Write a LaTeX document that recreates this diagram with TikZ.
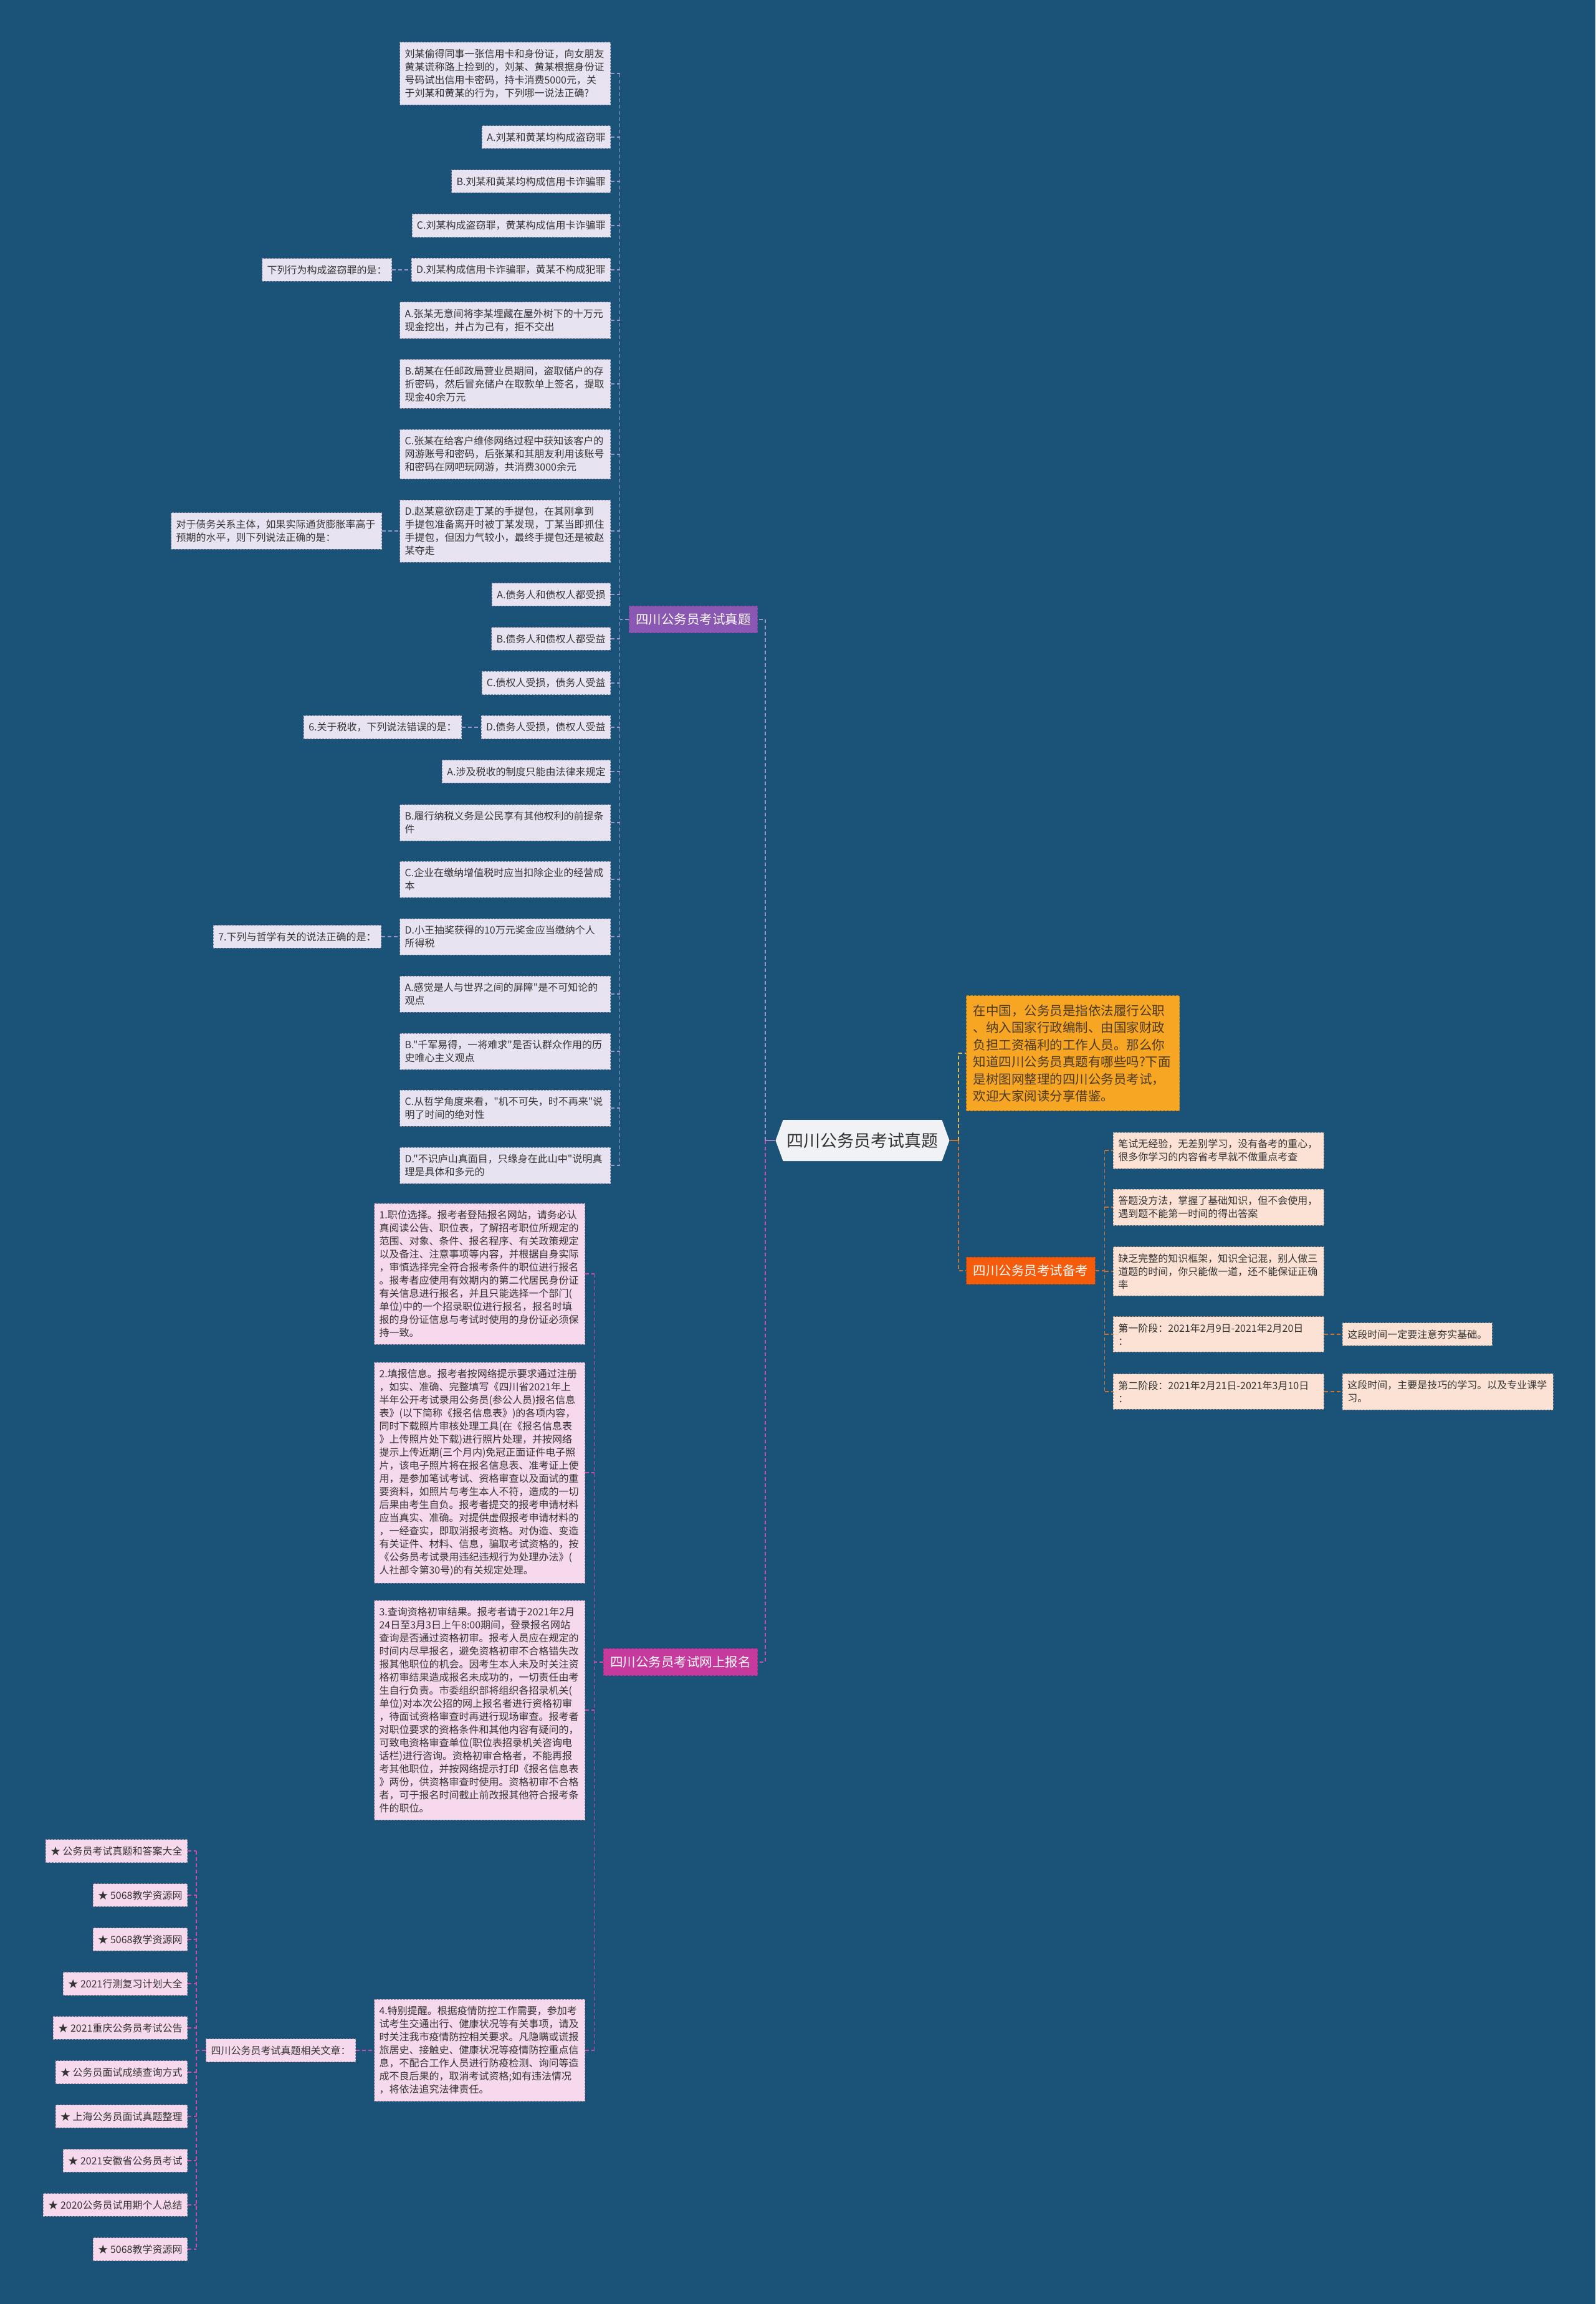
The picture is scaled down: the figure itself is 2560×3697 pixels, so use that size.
\documentclass[tikz,border=0pt]{standalone}
\usepackage{fontspec}
\usepackage{xcolor}
\newfontfamily\cjk{Noto Sans CJK SC}
\usetikzlibrary{calc, shapes.symbols}

\definecolor{bgblue}{HTML}{1B5378}
\definecolor{txtdark}{HTML}{333333}
\definecolor{zqmain}{HTML}{8A58B2}
\definecolor{zqedge}{HTML}{6A4194}
\definecolor{zqlight}{HTML}{E8E3F1}
\definecolor{zqleafedge}{HTML}{8A87A6}
\definecolor{zqwire}{HTML}{9A96C8}
\definecolor{bmmain}{HTML}{C63A9E}
\definecolor{bmedge}{HTML}{A02A80}
\definecolor{bmlight}{HTML}{F6D9EC}
\definecolor{bmleafedge}{HTML}{A48A9C}
\definecolor{bmwire}{HTML}{C84FA8}
\definecolor{bkmain}{HTML}{F45B0A}
\definecolor{bkedge}{HTML}{C24606}
\definecolor{bklight}{HTML}{FCE2D4}
\definecolor{bkleafedge}{HTML}{A89486}
\definecolor{bkwire}{HTML}{C87438}
\definecolor{inmain}{HTML}{F6A623}
\definecolor{inedge}{HTML}{D08A14}
\definecolor{inwire}{HTML}{E8B84A}
\definecolor{intext}{HTML}{4D3A22}
\definecolor{rootfill}{HTML}{F1F2F5}

\begin{document}
\begin{tikzpicture}[x=1pt, y=-1pt,
  every node/.style={font=\cjk, text=txtdark},
  leafbox/.style={rectangle, draw, dash pattern=on 3pt off 2pt, line width=0.8pt, inner xsep=8pt, inner ysep=11pt, align=left, font=\cjk\fontsize{16}{21}\selectfont},
  wide/.style={text width=322pt},
  zqleaf/.style={leafbox, fill=zqlight, draw=zqleafedge},
  bmleaf/.style={leafbox, fill=bmlight, draw=bmleafedge},
  bkleaf/.style={leafbox, fill=bklight, draw=bkleafedge},
  mainbox/.style={rectangle, draw, dash pattern=on 4pt off 2pt, line width=1pt, inner xsep=11pt, inner ysep=12pt, text=white, font=\cjk\fontsize{20.5}{26}\selectfont},
  wire/.style={line width=1.6pt, dash pattern=on 6pt off 4pt},
  zqline/.style={wire, draw=zqwire},
  bmline/.style={wire, draw=bmwire},
  bkline/.style={wire, draw=bkwire},
  inline/.style={wire, draw=inwire}]

  \fill[bgblue] (0,0) rectangle (2560,3697);

  % root
  \node[shape=signal, signal to=west and east, signal pointer angle=140, fill=rootfill, minimum height=66pt, inner xsep=6pt, font=\cjk\fontsize{27}{32}\selectfont] (root) at (1384,1830) {四川公务员考试真题};

  % branch: 四川公务员考试真题
  \node[mainbox, fill=zqmain, draw=zqedge, anchor=east] (zhenti) at (1216,994) {四川公务员考试真题};
  \node[zqleaf, wide, anchor=east] (q1) at (980,118) {刘某偷得同事一张信用卡和身份证，向女朋友\\黄某谎称路上捡到的，刘某、黄某根据身份证\\号码试出信用卡密码，持卡消费5000元，关\\于刘某和黄某的行为，下列哪一说法正确?};
  \node[zqleaf, anchor=east] (q1a) at (980,220) {A.刘某和黄某均构成盗窃罪};
  \node[zqleaf, anchor=east] (q1b) at (980,291) {B.刘某和黄某均构成信用卡诈骗罪};
  \node[zqleaf, anchor=east] (q1c) at (980,362) {C.刘某构成盗窃罪，黄某构成信用卡诈骗罪};
  \node[zqleaf, anchor=east] (q1d) at (980,433) {D.刘某构成信用卡诈骗罪，黄某不构成犯罪};
  \node[zqleaf, anchor=east] (t1) at (629,433) {下列行为构成盗窃罪的是：};
  \node[zqleaf, wide, anchor=east] (q2a) at (980,514) {A.张某无意间将李某埋藏在屋外树下的十万元\\现金挖出，并占为己有，拒不交出};
  \node[zqleaf, wide, anchor=east] (q2b) at (980,616) {B.胡某在任邮政局营业员期间，盗取储户的存\\折密码，然后冒充储户在取款单上签名，提取\\现金40余万元};
  \node[zqleaf, wide, anchor=east] (q2c) at (980,729) {C.张某在给客户维修网络过程中获知该客户的\\网游账号和密码，后张某和其朋友利用该账号\\和密码在网吧玩网游，共消费3000余元};
  \node[zqleaf, wide, anchor=east] (q2d) at (980,852) {D.赵某意欲窃走丁某的手提包，在其刚拿到\\手提包准备离开时被丁某发现，丁某当即抓住\\手提包，但因力气较小，最终手提包还是被赵\\某夺走};
  \node[zqleaf, wide, anchor=east] (t2) at (613,852) {对于债务关系主体，如果实际通货膨胀率高于\\预期的水平，则下列说法正确的是：};
  \node[zqleaf, anchor=east] (q3a) at (980,954) {A.债务人和债权人都受损};
  \node[zqleaf, anchor=east] (q3b) at (980,1025) {B.债务人和债权人都受益};
  \node[zqleaf, anchor=east] (q3c) at (980,1096) {C.债权人受损，债务人受益};
  \node[zqleaf, anchor=east] (q3d) at (980,1167) {D.债务人受损，债权人受益};
  \node[zqleaf, anchor=east] (t3) at (741,1167) {6.关于税收，下列说法错误的是：};
  \node[zqleaf, anchor=east] (q4a) at (980,1238) {A.涉及税收的制度只能由法律来规定};
  \node[zqleaf, wide, anchor=east] (q4b) at (980,1320) {B.履行纳税义务是公民享有其他权利的前提条\\件};
  \node[zqleaf, wide, anchor=east] (q4c) at (980,1411) {C.企业在缴纳增值税时应当扣除企业的经营成\\本};
  \node[zqleaf, wide, anchor=east] (q4d) at (980,1503) {D.小王抽奖获得的10万元奖金应当缴纳个人\\所得税};
  \node[zqleaf, anchor=east] (t4) at (612,1503) {7.下列与哲学有关的说法正确的是：};
  \node[zqleaf, wide, anchor=east] (q5a) at (980,1595) {A.感觉是人与世界之间的屏障"是不可知论的\\观点};
  \node[zqleaf, wide, anchor=east] (q5b) at (980,1687) {B."千军易得，一将难求"是否认群众作用的历\\史唯心主义观点};
  \node[zqleaf, wide, anchor=east] (q5c) at (980,1778) {C.从哲学角度来看，"机不可失，时不再来"说\\明了时间的绝对性};
  \node[zqleaf, wide, anchor=east] (q5d) at (980,1870) {D."不识庐山真面目，只缘身在此山中"说明真\\理是具体和多元的};

  % branch: intro and 四川公务员考试备考
  \node[rectangle, draw=inedge, dash pattern=on 4pt off 2pt, line width=1pt, fill=inmain, text=intext, align=left, text width=320pt, inner xsep=11pt, inner ysep=14pt, font=\cjk\fontsize{20.5}{27.5}\selectfont, anchor=west] (intro) at (1550,1690) {在中国，公务员是指依法履行公职\\、纳入国家行政编制、由国家财政\\负担工资福利的工作人员。那么你\\知道四川公务员真题有哪些吗?下面\\是树图网整理的四川公务员考试，\\欢迎大家阅读分享借鉴。};
  \node[mainbox, fill=bkmain, draw=bkedge, anchor=west] (beikao) at (1550,2039) {四川公务员考试备考};
  \node[bkleaf, wide, anchor=west] (r1) at (1786,1846) {笔试无经验，无差别学习，没有备考的重心，\\很多你学习的内容省考早就不做重点考查};
  \node[bkleaf, wide, anchor=west] (r2) at (1786,1937) {答题没方法，掌握了基础知识，但不会使用，\\遇到题不能第一时间的得出答案};
  \node[bkleaf, wide, anchor=west] (r3) at (1786,2040) {缺乏完整的知识框架，知识全记混，别人做三\\道题的时间，你只能做一道，还不能保证正确\\率};
  \node[bkleaf, wide, anchor=west] (r4) at (1786,2141) {第一阶段：2021年2月9日-2021年2月20日\\：};
  \node[bkleaf, wide, anchor=west] (r5) at (1786,2233) {第二阶段：2021年2月21日-2021年3月10日\\：};
  \node[bkleaf, anchor=west] (r4x) at (2154,2141) {这段时间一定要注意夯实基础。};
  \node[bkleaf, wide, anchor=west] (r5x) at (2154,2233) {这段时间，主要是技巧的学习。以及专业课学\\习。};

  % branch: 四川公务员考试网上报名
  \node[mainbox, fill=bmmain, draw=bmedge, anchor=east] (baoming) at (1216,2667) {四川公务员考试网上报名};
  \node[bmleaf, wide, anchor=east] (s1) at (939,2044) {1.职位选择。报考者登陆报名网站，请务必认\\真阅读公告、职位表，了解招考职位所规定的\\范围、对象、条件、报名程序、有关政策规定\\以及备注、注意事项等内容，并根据自身实际\\，审慎选择完全符合报考条件的职位进行报名\\。报考者应使用有效期内的第二代居民身份证\\有关信息进行报名，并且只能选择一个部门(\\单位)中的一个招录职位进行报名，报名时填\\报的身份证信息与考试时使用的身份证必须保\\持一致。};
  \node[bmleaf, wide, anchor=east] (s2) at (939,2363) {2.填报信息。报考者按网络提示要求通过注册\\，如实、准确、完整填写《四川省2021年上\\半年公开考试录用公务员(参公人员)报名信息\\表》(以下简称《报名信息表》)的各项内容，\\同时下载照片审核处理工具(在《报名信息表\\》上传照片处下载)进行照片处理，并按网络\\提示上传近期(三个月内)免冠正面证件电子照\\片，该电子照片将在报名信息表、准考证上使\\用，是参加笔试考试、资格审查以及面试的重\\要资料，如照片与考生本人不符，造成的一切\\后果由考生自负。报考者提交的报考申请材料\\应当真实、准确。对提供虚假报考申请材料的\\，一经查实，即取消报考资格。对伪造、变造\\有关证件、材料、信息，骗取考试资格的，按\\《公务员考试录用违纪违规行为处理办法》(\\人社部令第30号)的有关规定处理。};
  \node[bmleaf, wide, anchor=east] (s3) at (939,2744) {3.查询资格初审结果。报考者请于2021年2月\\24日至3月3日上午8:00期间，登录报名网站\\查询是否通过资格初审。报考人员应在规定的\\时间内尽早报名，避免资格初审不合格错失改\\报其他职位的机会。因考生本人未及时关注资\\格初审结果造成报名未成功的，一切责任由考\\生自行负责。市委组织部将组织各招录机关(\\单位)对本次公招的网上报名者进行资格初审\\，待面试资格审查时再进行现场审查。报考者\\对职位要求的资格条件和其他内容有疑问的，\\可致电资格审查单位(职位表招录机关咨询电\\话栏)进行咨询。资格初审合格者，不能再报\\考其他职位，并按网络提示打印《报名信息表\\》两份，供资格审查时使用。资格初审不合格\\者，可于报名时间截止前改报其他符合报考条\\件的职位。};
  \node[bmleaf, wide, anchor=east] (s4) at (939,3290) {4.特别提醒。根据疫情防控工作需要，参加考\\试考生交通出行、健康状况等有关事项，请及\\时关注我市疫情防控相关要求。凡隐瞒或谎报\\旅居史、接触史、健康状况等疫情防控重点信\\息，不配合工作人员进行防疫检测、询问等造\\成不良后果的，取消考试资格;如有违法情况\\，将依法追究法律责任。};
  \node[bmleaf, anchor=east] (p5) at (571,3290) {四川公务员考试真题相关文章：};
  \node[bmleaf, anchor=east] (l1) at (301,2970) {★ 公务员考试真题和答案大全};
  \node[bmleaf, anchor=east] (l2) at (301,3041) {★ 5068教学资源网};
  \node[bmleaf, anchor=east] (l3) at (301,3112) {★ 5068教学资源网};
  \node[bmleaf, anchor=east] (l4) at (301,3183) {★ 2021行测复习计划大全};
  \node[bmleaf, anchor=east] (l5) at (301,3254) {★ 2021重庆公务员考试公告};
  \node[bmleaf, anchor=east] (l6) at (301,3325) {★ 公务员面试成绩查询方式};
  \node[bmleaf, anchor=east] (l7) at (301,3396) {★ 上海公务员面试真题整理};
  \node[bmleaf, anchor=east] (l8) at (301,3467) {★ 2021安徽省公务员考试};
  \node[bmleaf, anchor=east] (l9) at (301,3538) {★ 2020公务员试用期个人总结};
  \node[bmleaf, anchor=east] (l10) at (301,3609) {★ 5068教学资源网};

  % root to main branches
  \draw[line width=2pt, zqwire!80!zqmain] (root.west) -- ++(-16,0) coordinate (lfork);
  \draw[zqline] (lfork) |- (zhenti.east);
  \draw[bmline] (lfork) |- (baoming.east);
  \draw[line width=2pt, bkwire] (root.east) -- ++(14,0) coordinate (rfork);
  \draw[inline] (rfork) |- (intro.west);
  \draw[bkline] (rfork) |- (beikao.west);

  % 真题 wires
  \draw[zqline] (zhenti.west) -- ++(-14,0) coordinate (zqfork);
  \draw[zqline] (zqfork |- q1.east) -- (zqfork |- q5d.east);
  \draw[zqline] (q1.east) -- (zqfork |- q1.east);
  \draw[zqline] (q1a.east) -- (zqfork |- q1a.east);
  \draw[zqline] (q1b.east) -- (zqfork |- q1b.east);
  \draw[zqline] (q1c.east) -- (zqfork |- q1c.east);
  \draw[zqline] (q1d.east) -- (zqfork |- q1d.east);
  \draw[zqline] (q2a.east) -- (zqfork |- q2a.east);
  \draw[zqline] (q2b.east) -- (zqfork |- q2b.east);
  \draw[zqline] (q2c.east) -- (zqfork |- q2c.east);
  \draw[zqline] (q2d.east) -- (zqfork |- q2d.east);
  \draw[zqline] (q3a.east) -- (zqfork |- q3a.east);
  \draw[zqline] (q3b.east) -- (zqfork |- q3b.east);
  \draw[zqline] (q3c.east) -- (zqfork |- q3c.east);
  \draw[zqline] (q3d.east) -- (zqfork |- q3d.east);
  \draw[zqline] (q4a.east) -- (zqfork |- q4a.east);
  \draw[zqline] (q4b.east) -- (zqfork |- q4b.east);
  \draw[zqline] (q4c.east) -- (zqfork |- q4c.east);
  \draw[zqline] (q4d.east) -- (zqfork |- q4d.east);
  \draw[zqline] (q5a.east) -- (zqfork |- q5a.east);
  \draw[zqline] (q5b.east) -- (zqfork |- q5b.east);
  \draw[zqline] (q5c.east) -- (zqfork |- q5c.east);
  \draw[zqline] (q5d.east) -- (zqfork |- q5d.east);
  \draw[zqline] (t1) -- (q1d);
  \draw[zqline] (t2) -- (q2d);
  \draw[zqline] (t3) -- (q3d);
  \draw[zqline] (t4) -- (q4d);

  % 备考 wires
  \draw[bkline] (beikao.east) -- ++(15,0) coordinate (bkfork);
  \draw[bkline] (bkfork |- r1.west) -- (bkfork |- r5.west);
  \draw[bkline] (bkfork |- r1.west) -- (r1.west);
  \draw[bkline] (bkfork |- r2.west) -- (r2.west);
  \draw[bkline] (bkfork |- r3.west) -- (r3.west);
  \draw[bkline] (bkfork |- r4.west) -- (r4.west);
  \draw[bkline] (bkfork |- r5.west) -- (r5.west);
  \draw[bkline] (r4) -- (r4x);
  \draw[bkline] (r5) -- (r5x);

  % 网上报名 wires
  \draw[bmline] (baoming.west) -- ++(-14,0) coordinate (bmfork);
  \draw[bmline] (bmfork |- s1.east) -- (bmfork |- s4.east);
  \draw[bmline] (s1.east) -- (bmfork |- s1.east);
  \draw[bmline] (s2.east) -- (bmfork |- s2.east);
  \draw[bmline] (s3.east) -- (bmfork |- s3.east);
  \draw[bmline] (s4.east) -- (bmfork |- s4.east);
  \draw[bmline] (p5) -- (s4);
  \draw[bmline] (p5.west) -- ++(-15,0) coordinate (lkfork);
  \draw[bmline] (lkfork |- l1.east) -- (lkfork |- l10.east);
  \draw[bmline] (l1.east) -- (lkfork |- l1.east);
  \draw[bmline] (l2.east) -- (lkfork |- l2.east);
  \draw[bmline] (l3.east) -- (lkfork |- l3.east);
  \draw[bmline] (l4.east) -- (lkfork |- l4.east);
  \draw[bmline] (l5.east) -- (lkfork |- l5.east);
  \draw[bmline] (l6.east) -- (lkfork |- l6.east);
  \draw[bmline] (l7.east) -- (lkfork |- l7.east);
  \draw[bmline] (l8.east) -- (lkfork |- l8.east);
  \draw[bmline] (l9.east) -- (lkfork |- l9.east);
  \draw[bmline] (l10.east) -- (lkfork |- l10.east);
\end{tikzpicture}
\end{document}
